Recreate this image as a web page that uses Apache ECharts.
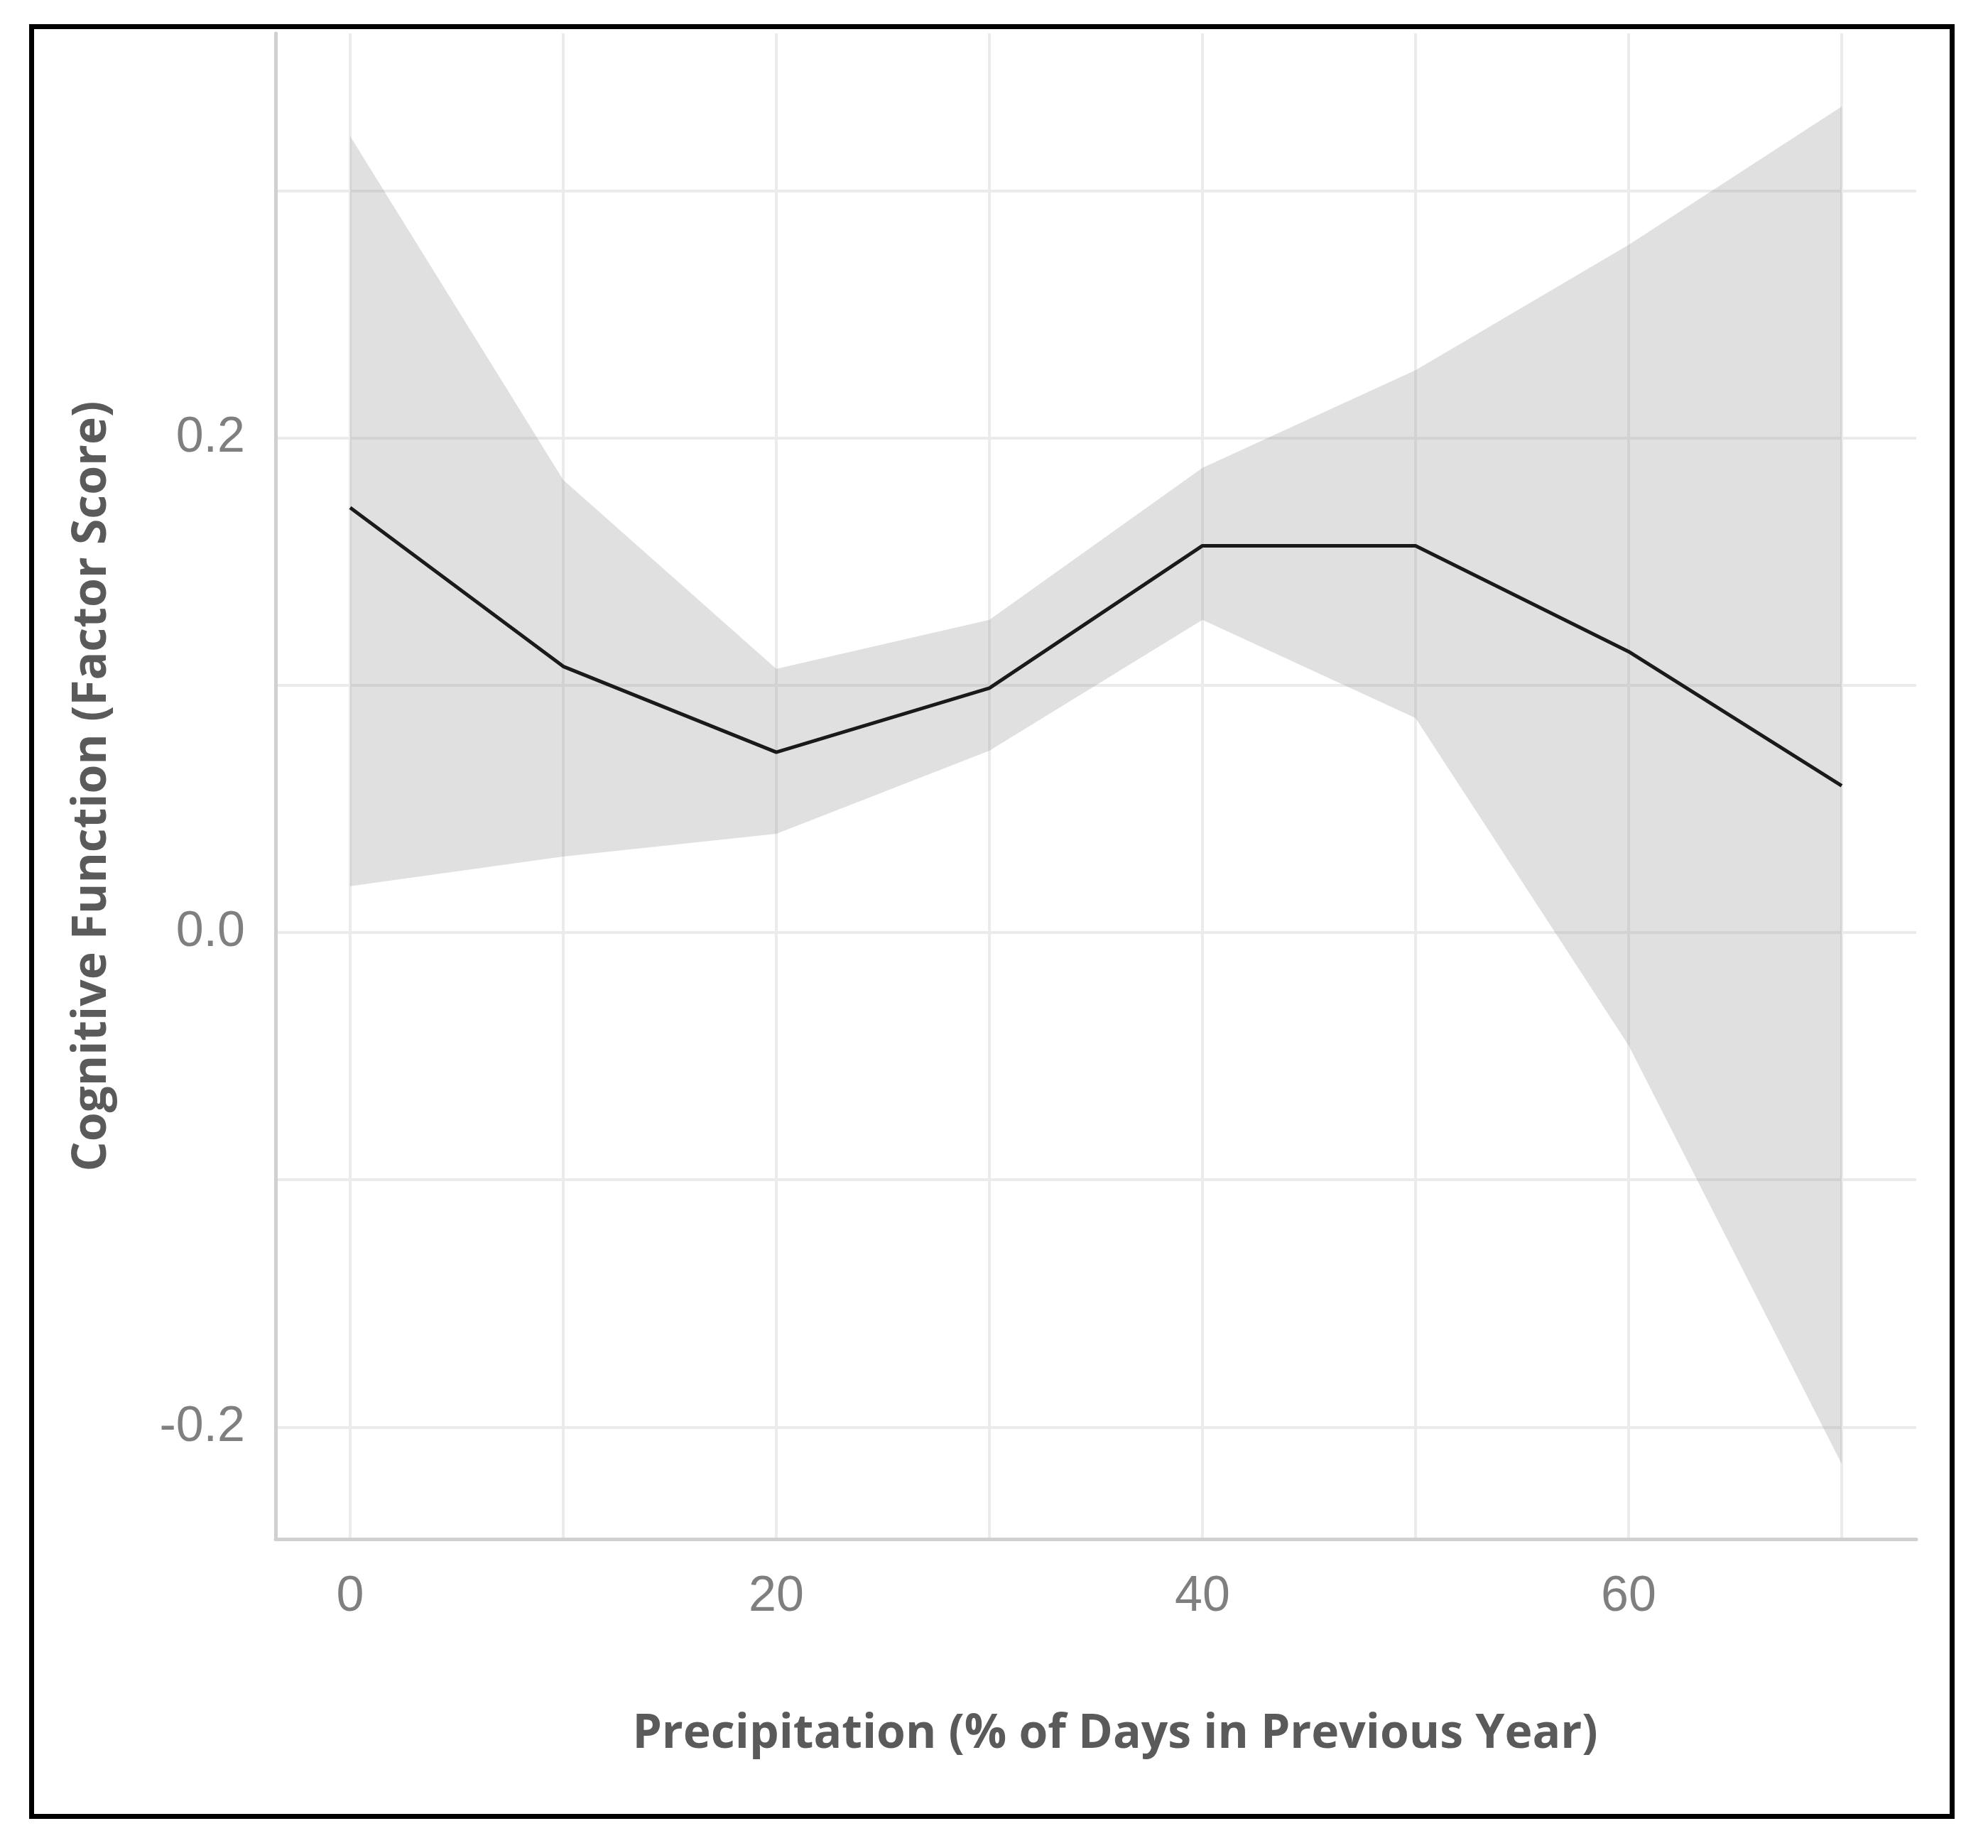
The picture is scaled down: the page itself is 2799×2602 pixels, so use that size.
<!DOCTYPE html>
<html>
<head>
    <meta charset="utf-8">
    <title>Cognitive function vs precipitation</title>
    <script src="https://cdn.jsdelivr.net/npm/echarts@6.0.0/dist/echarts.min.js"></script>
    <style>
      body, canvas {
        padding: 0;
        margin: 0;
        background: #fff;
      }
    </style>
</head>
<body>
    <div id="main"></div>
    <script type="text/javascript">
      const main = document.getElementById('main')
      main.style.width = window.innerWidth + 'px'
      main.style.height = window.innerHeight + 'px'

      // smoothed fit and its confidence band
      const precip = [0, 10, 20, 30, 40, 50, 60, 70];
      const fit = [0.1718, 0.1076, 0.0729, 0.0988, 0.1564, 0.1564, 0.1136, 0.0593];
      const upper = [0.3220, 0.1830, 0.1066, 0.1264, 0.1879, 0.2274, 0.2781, 0.3340];
      const lower = [0.0187, 0.0307, 0.0399, 0.0735, 0.1264, 0.0867, -0.0457, -0.2149];

      const xGridValues = [0, 10, 20, 30, 40, 50, 60, 70];
      const xLabelValues = [0, 20, 40, 60];
      const yGridValues = [-0.2, -0.1, 0, 0.1, 0.2, 0.3];
      const yLabelValues = [-0.2, 0, 0.2];

      var myChart = echarts.init(main);
      const option = {
        backgroundColor: '#ffffff',
        animation: false,
        grid: {
          left: 388,
          top: 47,
          width: 2310,
          height: 2120
        },
        xAxis: {
          type: 'value',
          min: -3.5,
          max: 73.5,
          name: 'Precipitation (% of Days in Previous Year)',
          nameLocation: 'middle',
          nameGap: 242,
          nameTextStyle: {
            fontFamily: 'Open Sans',
            fontWeight: 'bold',
            fontSize: 66,
            color: '#5a5a5a',
            padding: [0, 0, 0, 54]
          },
          axisLine: { show: true, onZero: false, lineStyle: { color: '#d0d0d0', width: 5 } },
          axisTick: { show: false, customValues: xGridValues },
          axisLabel: {
            customValues: xLabelValues,
            margin: 47,
            fontFamily: 'Liberation Sans',
            fontSize: 70,
            color: '#7f7f7f'
          },
          splitLine: { show: true, lineStyle: { color: '#ebebeb', width: 4 } }
        },
        yAxis: {
          type: 'value',
          min: -0.2453,
          max: 0.3636,
          name: 'Cognitive Function (Factor Score)',
          nameLocation: 'middle',
          nameGap: 225,
          nameTextStyle: {
            fontFamily: 'Open Sans',
            fontWeight: 'bold',
            fontSize: 66,
            color: '#5a5a5a'
          },
          axisLine: { show: true, onZero: false, lineStyle: { color: '#d0d0d0', width: 5 } },
          axisTick: { show: false, customValues: yGridValues },
          axisLabel: {
            customValues: yLabelValues,
            margin: 43,
            fontFamily: 'Liberation Sans',
            fontSize: 70,
            color: '#7f7f7f',
            padding: [16, 0, 0, 0],
            formatter: v => v.toFixed(1)
          },
          splitLine: { show: true, lineStyle: { color: '#ebebeb', width: 4 } }
        },
        graphic: [{
          type: 'rect',
          shape: { x: 44.5, y: 37.5, width: 2704, height: 2520 },
          style: { fill: 'none', stroke: '#000', lineWidth: 7 },
          z: 100
        }],
        series: [
          {
            name: 'band',
            type: 'custom',
            silent: true,
            data: precip.map((x, i) => [x, lower[i], upper[i]]),
            encode: { x: 0, y: [1, 2] },
            renderItem: function (params, api) {
              if (params.dataIndex !== 0) return;
              const top = precip.map((x, i) => api.coord([x, upper[i]]));
              const bottom = precip.map((x, i) => api.coord([x, lower[i]])).reverse();
              return {
                type: 'polygon',
                shape: { points: top.concat(bottom) },
                style: { fill: '#999999', opacity: 0.3 }
              };
            }
          },
          {
            name: 'fit',
            type: 'line',
            data: precip.map((x, i) => [x, fit[i]]),
            symbol: 'none',
            z: 3,
            lineStyle: { color: '#1a1a1a', width: 5 }
          }
        ]
      };
      myChart.setOption(option);
    </script>
</body>
</html>
